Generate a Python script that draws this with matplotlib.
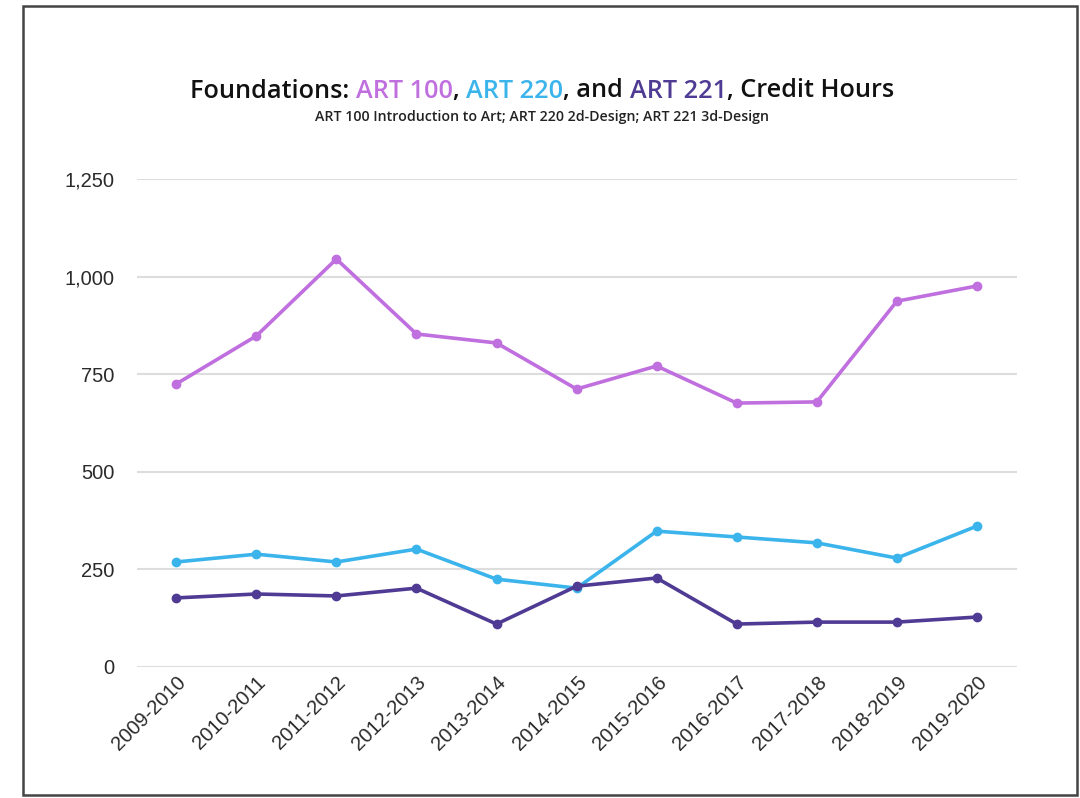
import matplotlib
matplotlib.use("Agg")
import matplotlib.pyplot as plt
from matplotlib.patches import Rectangle
from matplotlib.ticker import FuncFormatter

years = ["2009-2010", "2010-2011", "2011-2012", "2012-2013", "2013-2014", "2014-2015",
         "2015-2016", "2016-2017", "2017-2018", "2018-2019", "2019-2020"]
art100 = [725, 848, 1045, 853, 830, 712, 771, 676, 679, 937, 976]
art220 = [269, 289, 269, 302, 225, 202, 348, 333, 318, 279, 361]
art221 = [177, 187, 182, 202, 110, 207, 228, 110, 115, 115, 128]
yticks = [0, 250, 500, 750, 1000, 1250]

c100 = "#C06FDF"
c220 = "#3BB4EC"
c221 = "#4F3B93"

fig = plt.figure(figsize=(10.8, 7.98), dpi=100)
ax = fig.add_axes([137/1080, 1-667/798, (1017-137)/1080, (667-179)/798])

x = list(range(len(years)))
for vals, c in [(art100, c100), (art220, c220), (art221, c221)]:
    ax.plot(x, vals, color=c, lw=2.6, marker="o", ms=6, clip_on=False, zorder=3)

ax.set_xlim(-0.49, 10.5)
ax.set_ylim(0, 1250)
ax.set_yticks(yticks)
ax.yaxis.set_major_formatter(FuncFormatter(lambda v, p: f"{int(v):,}"))
ax.set_xticks(x)
ax.set_xticklabels(years, rotation=45, ha="right", rotation_mode="anchor")
ax.grid(axis="y", color="#dddddd", lw=1.5)
ax.set_axisbelow(True)
for s in ax.spines.values():
    s.set_visible(False)
ax.tick_params(axis="both", length=0, labelsize=14.5, labelcolor="#2a2a2a")
ax.tick_params(axis="y", pad=16)
ax.tick_params(axis="x", pad=4)
for lab in ax.get_xticklabels() + ax.get_yticklabels():
    lab.set_family(["Liberation Sans", "DejaVu Sans"])

# multi-colored title
pieces = [("Foundations: ", "#111111"), ("ART 100", c100), (", ", "#111111"),
          ("ART 220", c220), (", and ", "#111111"), ("ART 221", c221),
          (", Credit Hours", "#111111")]
fig.canvas.draw()
r = fig.canvas.get_renderer()
tprops = dict(fontsize=18.2, family=["Open Sans", "DejaVu Sans"], fontweight="semibold")
texts = []
total = 0
for s, c in pieces:
    t = fig.text(0, 1-91/798, s, color=c, va="center", ha="left", **tprops)
    w = t.get_window_extent(renderer=r).width
    texts.append((t, w))
    total += w
xpos = 542 - total/2
for t, w in texts:
    t.set_x(xpos/1080)
    xpos += w

fig.text(542/1080, 1-117/798, "ART 100 Introduction to Art; ART 220 2d-Design; ART 221 3d-Design",
         ha="center", va="center", fontsize=10.2, color="#222222", fontweight="semibold",
         family=["Open Sans", "DejaVu Sans"])

fig.patches.append(Rectangle((23/1080, 3/798), (1077-23)/1080, (795-6)/798,
                             transform=fig.transFigure, fill=False, ec="#444444", lw=1.8))

fig.savefig("out.png", dpi=100)
